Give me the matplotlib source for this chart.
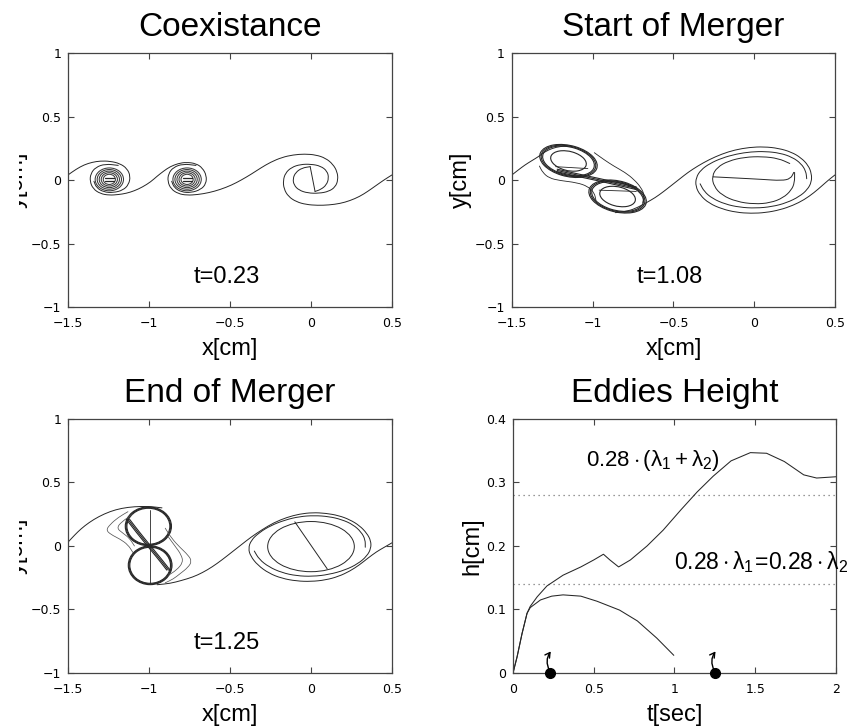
import numpy as np
import matplotlib
matplotlib.use("Agg")
import matplotlib.pyplot as plt
from matplotlib.path import Path
from matplotlib.patches import PathPatch, Ellipse
from matplotlib.transforms import Bbox, TransformedBbox

plt.rcParams['font.family'] = ['Liberation Sans', 'DejaVu Sans']
plt.rcParams['mathtext.fontset'] = 'custom'
plt.rcParams['mathtext.rm'] = 'Liberation Sans'
plt.rcParams['mathtext.it'] = 'Liberation Sans'
plt.rcParams['mathtext.bf'] = 'Liberation Sans:bold'

# ---------------- data ----------------
xy_ticks_x = [-1.5, -1, -0.5, 0, 0.5]
xy_labels_x = ['\u22121.5', '\u22121', '\u22120.5', '0', '0.5']
xy_ticks_y = [-1, -0.5, 0, 0.5, 1]
xy_labels_y = ['\u22121', '\u22120.5', '0', '0.5', '1']

# panel 1 : coexistance, t=0.23
coex_arm_left = [(-1.5, 0.04), (-1.45, 0.085), (-1.40, 0.12), (-1.35, 0.14), (-1.30, 0.15),
                 (-1.24, 0.148), (-1.18, 0.13), (-1.135, 0.09), (-1.115, 0.03), (-1.125, -0.035),
                 (-1.16, -0.08), (-1.22, -0.1), (-1.28, -0.095), (-1.325, -0.06), (-1.34, -0.01)]
coex_arm_ab = [(-1.19, 0.115), (-1.27, 0.127), (-1.33, 0.1), (-1.36, 0.05), (-1.365, -0.01),
               (-1.345, -0.07), (-1.30, -0.108), (-1.245, -0.12), (-1.19, -0.115), (-1.14, -0.105),
               (-1.09, -0.085), (-1.04, -0.055), (-0.99, -0.015), (-0.95, 0.03), (-0.91, 0.07),
               (-0.87, 0.105), (-0.82, 0.13), (-0.77, 0.14), (-0.71, 0.13), (-0.67, 0.095),
               (-0.645, 0.035), (-0.648, -0.03), (-0.68, -0.075), (-0.74, -0.1), (-0.8, -0.095),
               (-0.845, -0.06), (-0.86, -0.01)]
coex_arm_bc = [(-0.71, 0.115), (-0.79, 0.127), (-0.85, 0.1), (-0.88, 0.05), (-0.885, -0.01),
               (-0.865, -0.07), (-0.82, -0.108), (-0.765, -0.12), (-0.70, -0.115), (-0.63, -0.1),
               (-0.56, -0.075), (-0.49, -0.04), (-0.43, 0.0), (-0.37, 0.045), (-0.31, 0.095),
               (-0.25, 0.14), (-0.18, 0.178), (-0.11, 0.198), (-0.04, 0.205), (0.03, 0.198),
               (0.09, 0.172), (0.135, 0.125), (0.162, 0.065), (0.167, 0.0), (0.15, -0.055),
               (0.11, -0.09), (0.05, -0.105), (-0.02, -0.103), (-0.075, -0.08), (-0.105, -0.04),
               (-0.112, 0.01), (-0.095, 0.06), (-0.055, 0.095), (-0.005, 0.105)]
coex_arm_c = [(0.5, 0.04), (0.45, 0.0), (0.40, -0.045), (0.35, -0.09), (0.30, -0.13),
              (0.24, -0.163), (0.18, -0.185), (0.11, -0.197), (0.04, -0.2), (-0.03, -0.193),
              (-0.09, -0.172), (-0.14, -0.13), (-0.167, -0.07), (-0.172, -0.005), (-0.158, 0.055),
              (-0.12, 0.1), (-0.065, 0.123), (0.0, 0.125), (0.06, 0.11), (0.1, 0.07),
              (0.11, 0.015), (0.095, -0.04), (0.06, -0.075), (0.025, -0.09)]
coex_tail = [(-0.005, 0.105), (0.025, -0.09)]
coex_core_x = [-1.245, -0.765]
coex_core_y = [0.005, 0.005]
coex_core_w = [0.175, 0.15, 0.125, 0.10, 0.075]
coex_core_h = [0.18, 0.155, 0.13, 0.105, 0.08]

# panel 2 : start of merger, t=1.08
start_sheet_left = [(-1.5, 0.04), (-1.46, 0.08), (-1.42, 0.118), (-1.38, 0.15), (-1.337, 0.183),
                    (-1.297, 0.222), (-1.25, 0.25), (-1.2, 0.265), (-1.14, 0.268)]
start_lobe_x = [-1.15, -0.846]
start_lobe_y = [0.15, -0.13]
start_lobe_scale = [1.0, 0.95, 0.9, 0.62]
start_lobe_w, start_lobe_h, start_lobe_ang = 0.37, 0.24, -21
start_env_a = [(-0.99, 0.215), (-0.93, 0.16), (-0.87, 0.11), (-0.80, 0.06), (-0.745, 0.005),
               (-0.70, -0.06), (-0.68, -0.12), (-0.69, -0.18)]
start_env_b = [(-1.33, 0.11), (-1.31, 0.06), (-1.27, 0.015), (-1.20, -0.005), (-1.10, -0.02),
               (-1.03, -0.05), (-0.99, -0.1), (-0.98, -0.16)]
start_band = [(-1.22, 0.075), (-1.1, 0.04), (-0.97, 0.005), (-0.85, -0.03), (-0.73, -0.065)]
start_bar_a = [(-1.23, 0.105), (-1.03, 0.09)]
start_bar_b = [(-0.96, -0.08), (-0.73, -0.09)]
start_arm_crest = [(-0.86, -0.257), (-0.78, -0.245), (-0.72, -0.215), (-0.67, -0.18), (-0.614, -0.14),
                   (-0.56, -0.09), (-0.51, -0.04), (-0.46, 0.01), (-0.41, 0.06), (-0.35, 0.11),
                   (-0.28, 0.16), (-0.2, 0.205), (-0.12, 0.237), (-0.03, 0.257), (0.06, 0.262),
                   (0.15, 0.25), (0.23, 0.22), (0.29, 0.175), (0.335, 0.115), (0.355, 0.05),
                   (0.355, -0.015), (0.33, -0.075), (0.28, -0.13), (0.2, -0.18), (0.11, -0.21),
                   (0.01, -0.222), (-0.09, -0.215), (-0.18, -0.19), (-0.26, -0.145), (-0.31, -0.09),
                   (-0.335, -0.03)]
start_arm_bottom = [(0.5, 0.04), (0.46, 0.0), (0.42, -0.045), (0.37, -0.1), (0.31, -0.155),
                    (0.24, -0.2), (0.16, -0.235), (0.07, -0.257), (-0.02, -0.263), (-0.11, -0.255),
                    (-0.2, -0.228), (-0.28, -0.183), (-0.335, -0.12), (-0.363, -0.05), (-0.36, 0.02),
                    (-0.33, 0.08), (-0.275, 0.13), (-0.2, 0.173), (-0.11, 0.205), (-0.02, 0.222),
                    (0.07, 0.225), (0.16, 0.212), (0.235, 0.18), (0.29, 0.13), (0.32, 0.07),
                    (0.325, 0.01)]
start_inner = [(0.22, 0.13), (0.15, 0.17), (0.05, 0.185), (-0.06, 0.18), (-0.16, 0.15),
               (-0.23, 0.1), (-0.262, 0.03), (-0.25, -0.05), (-0.2, -0.12), (-0.11, -0.17),
               (0.0, -0.19), (0.1, -0.18), (0.18, -0.14), (0.23, -0.08), (0.25, -0.02), (0.25, 0.06)]
start_bar = [(-0.255, 0.025), (-0.1, 0.015), (0.05, 0.005), (0.17, -0.005), (0.225, 0.01), (0.245, 0.06)]

# panel 3 : end of merger, t=1.25
end_sheet_left = [(-1.5, 0.03), (-1.46, 0.085), (-1.42, 0.135), (-1.37, 0.185), (-1.31, 0.232),
                  (-1.24, 0.272), (-1.17, 0.297), (-1.09, 0.31), (-1.0, 0.312), (-0.92, 0.3)]
end_loop_x = [-1.004, -0.993]
end_loop_y = [0.155, -0.152]
end_loop_w = [0.285, 0.27]
end_loop_h = 0.305
end_loop_scale = [1.0, 0.965, 0.93]
end_diag = [(-1.13, 0.21), (-1.07, 0.11), (-1.0, 0.0), (-0.935, -0.1), (-0.88, -0.19)]
end_vline = [(-0.995, 0.285), (-0.995, -0.29)]
end_wing_l1 = [(-1.13, 0.27), (-1.19, 0.225), (-1.24, 0.17), (-1.265, 0.125), (-1.235, 0.09),
               (-1.18, 0.055), (-1.13, 0.01), (-1.1, -0.05)]
end_wing_l2 = [(-1.1, 0.25), (-1.17, 0.19), (-1.2, 0.14), (-1.16, 0.1), (-1.12, 0.06), (-1.09, 0.0)]
end_wing_r1 = [(-0.9, 0.14), (-0.86, 0.06), (-0.81, -0.01), (-0.76, -0.07), (-0.735, -0.12),
               (-0.76, -0.17), (-0.81, -0.22), (-0.85, -0.26), (-0.9, -0.29)]
end_wing_r2 = [(-0.88, 0.07), (-0.84, 0.0), (-0.8, -0.07), (-0.79, -0.13), (-0.83, -0.19), (-0.88, -0.23)]
end_arm_crest = [(-0.95, -0.305), (-0.87, -0.295), (-0.8, -0.272), (-0.73, -0.245), (-0.67, -0.21),
                 (-0.61, -0.165), (-0.55, -0.11), (-0.49, -0.05), (-0.43, 0.01), (-0.37, 0.07),
                 (-0.3, 0.13), (-0.23, 0.183), (-0.15, 0.225), (-0.07, 0.252), (0.01, 0.263),
                 (0.09, 0.258), (0.17, 0.24), (0.24, 0.207), (0.3, 0.16), (0.345, 0.1),
                 (0.37, 0.04), (0.37, -0.02), (0.345, -0.08), (0.29, -0.14), (0.21, -0.19),
                 (0.11, -0.225), (0.01, -0.24), (-0.09, -0.235), (-0.18, -0.21), (-0.26, -0.165),
                 (-0.32, -0.105), (-0.35, -0.04)]
end_arm_bottom = [(0.5, 0.025), (0.45, -0.012), (0.405, -0.045), (0.35, -0.097), (0.3, -0.148),
                  (0.24, -0.198), (0.17, -0.24), (0.09, -0.268), (0.0, -0.28), (-0.09, -0.276),
                  (-0.18, -0.255), (-0.26, -0.215), (-0.33, -0.15), (-0.373, -0.08), (-0.387, -0.02),
                  (-0.37, 0.045), (-0.32, 0.105), (-0.25, 0.16), (-0.16, 0.205), (-0.07, 0.232),
                  (0.02, 0.24), (0.11, 0.232), (0.19, 0.208), (0.26, 0.168), (0.31, 0.11),
                  (0.335, 0.05), (0.335, -0.01)]
end_inner_c, end_inner_w, end_inner_h = (0.0, -0.005), 0.535, 0.395
end_diag_e = [(-0.1, 0.19), (0.1, -0.18)]

# panel 4 : eddies height
t_two = [0, 0.025, 0.056, 0.087, 0.107, 0.17, 0.24, 0.31, 0.42, 0.52, 0.66, 0.77, 0.89, 0.995]
h_two = [0, 0.025, 0.062, 0.094, 0.103, 0.115, 0.121, 0.123, 0.121, 0.113, 0.099, 0.082, 0.055, 0.028]
t_big = [0, 0.025, 0.056, 0.087, 0.107, 0.15, 0.21, 0.31, 0.42, 0.5, 0.56, 0.6, 0.654, 0.727,
         0.83, 0.93, 1.04, 1.14, 1.24, 1.35, 1.47, 1.57, 1.68, 1.8, 1.88, 2.0]
h_big = [0, 0.025, 0.062, 0.094, 0.105, 0.12, 0.137, 0.154, 0.167, 0.178, 0.187, 0.178, 0.167, 0.178,
         0.2, 0.225, 0.257, 0.285, 0.31, 0.334, 0.347, 0.346, 0.333, 0.312, 0.307, 0.309]
h_levels = [0.28, 0.14]
t_marks = [0.23, 1.25]
t_ticks = [0, 0.5, 1, 1.5, 2]
t_labels = ['0', '0.5', '1', '1.5', '2']
h_ticks = [0, 0.1, 0.2, 0.3, 0.4]
h_labels = ['0', '0.1', '0.2', '0.3', '0.4']

LC = '#262626'


def sheet(ax, pts, closed=False, lw=0.7, color=LC):
    # smooth quadratic curve through the read waypoints
    p = np.asarray(pts, float)
    if len(p) == 2:
        verts, codes = [p[0], p[1]], [Path.MOVETO, Path.LINETO]
    elif closed:
        q = np.vstack([p, p[:2]])
        m = (q[:-1] + q[1:]) / 2
        verts, codes = [m[0]], [Path.MOVETO]
        for i in range(1, len(p) + 1):
            verts += [q[i], m[i]]
            codes += [Path.CURVE3, Path.CURVE3]
    else:
        m = (p[:-1] + p[1:]) / 2
        verts, codes = [p[0], m[0]], [Path.MOVETO, Path.LINETO]
        for i in range(1, len(p) - 1):
            verts += [p[i], m[i]]
            codes += [Path.CURVE3, Path.CURVE3]
        verts.append(p[-1])
        codes.append(Path.LINETO)
    ax.add_patch(PathPatch(Path(verts, codes), fill=False, lw=lw, ec=color,
                           capstyle='round', joinstyle='round'))


def ring(ax, c, w, h, ang=0, lw=0.7, color=LC):
    ax.add_patch(Ellipse(c, w, h, angle=ang, fill=False, lw=lw, ec=color))


def style(ax):
    for s in ax.spines.values():
        s.set_color('#444444')
        s.set_linewidth(0.9)
    ax.tick_params(direction='in', length=4, width=0.8, color='#444444',
                   top=True, right=True, labelsize=9)
    ax.tick_params(axis='x', pad=7)
    ax.tick_params(axis='y', pad=5)
    for lab in ax.get_xticklabels() + ax.get_yticklabels():
        lab.set_fontfamily('DejaVu Sans')


fig = plt.figure(figsize=(8.6, 7.27), dpi=100)
ax1 = fig.add_axes([0.0791, 0.5777, 0.3767, 0.3494])
ax2 = fig.add_axes([0.5953, 0.5777, 0.3756, 0.3494])
ax3 = fig.add_axes([0.0791, 0.0743, 0.3767, 0.3494])
ax4 = fig.add_axes([0.5965, 0.0743, 0.3756, 0.3494])

titles = ['Coexistance', 'Start of Merger', 'End of Merger']
stamps = ['t=0.23', 't=1.08', 't=1.25']
for ax, ttl, st in zip([ax1, ax2, ax3], titles, stamps):
    ax.set_xlim(-1.5, 0.5)
    ax.set_ylim(-1, 1)
    ax.set_xticks(xy_ticks_x)
    ax.set_xticklabels(xy_labels_x)
    ax.set_yticks(xy_ticks_y)
    ax.set_yticklabels(xy_labels_y)
    ax.set_title(ttl, fontsize=24, pad=12)
    ax.set_xlabel('x[cm]', fontsize=17, labelpad=6)
    ax.set_ylabel('y[cm]', fontsize=17, labelpad=2)
    ax.text(-0.52, -0.76, st, fontsize=17, ha='center', va='center')
    style(ax)

# left column labels are cut by the page edge in the original
for ax in [ax1, ax3]:
    clip = TransformedBbox(Bbox([[19 / 860, 0], [1, 1]]), fig.transFigure)
    ax.yaxis.label.set_clip_box(clip)
    ax.yaxis.label.set_clip_on(True)

# panel 1
for arm in [coex_arm_left, coex_arm_ab, coex_arm_bc, coex_arm_c, coex_tail]:
    sheet(ax1, arm)
for cx, cy in zip(coex_core_x, coex_core_y):
    for w, h in zip(coex_core_w, coex_core_h):
        ring(ax1, (cx, cy), w, h, lw=0.75, color='#3a3a3a')
    sheet(ax1, [(cx - 0.028, cy + 0.014), (cx + 0.028, cy + 0.014)], lw=0.9)
    sheet(ax1, [(cx - 0.028, cy - 0.012), (cx + 0.028, cy - 0.012)], lw=0.9)

# panel 2
sheet(ax2, start_sheet_left)
for cx, cy in zip(start_lobe_x, start_lobe_y):
    for s in start_lobe_scale:
        ring(ax2, (cx, cy), start_lobe_w * s, start_lobe_h * s, start_lobe_ang, lw=0.8)
sheet(ax2, start_env_a, lw=0.6)
sheet(ax2, start_env_b, lw=0.6)
for off in [-0.01, 0.0, 0.01]:
    sheet(ax2, [(x, y + off) for x, y in start_band], lw=0.8)
sheet(ax2, start_bar_a, lw=0.6)
sheet(ax2, start_bar_b, lw=0.6)
sheet(ax2, start_arm_crest)
sheet(ax2, start_arm_bottom)
sheet(ax2, start_inner)
sheet(ax2, start_bar)

# panel 3
sheet(ax3, end_sheet_left)
for cx, cy, w in zip(end_loop_x, end_loop_y, end_loop_w):
    for s in end_loop_scale:
        ring(ax3, (cx, cy), w * s, end_loop_h * s, lw=0.8)
for off in [-0.01, 0.0, 0.01]:
    sheet(ax3, [(x + off, y) for x, y in end_diag], lw=0.8)
sheet(ax3, end_vline, lw=0.6)
for wing in [end_wing_l1, end_wing_l2, end_wing_r1, end_wing_r2]:
    sheet(ax3, wing, lw=0.55, color='#555555')
sheet(ax3, end_arm_crest)
sheet(ax3, end_arm_bottom)
ring(ax3, end_inner_c, end_inner_w, end_inner_h)
sheet(ax3, end_diag_e)

# panel 4
ax4.set_xlim(0, 2)
ax4.set_ylim(0, 0.4)
ax4.set_xticks(t_ticks)
ax4.set_xticklabels(t_labels)
ax4.set_yticks(h_ticks)
ax4.set_yticklabels(h_labels)
ax4.set_title('Eddies Height', fontsize=24, pad=12)
ax4.set_xlabel('t[sec]', fontsize=17, labelpad=6)
ax4.set_ylabel('h[cm]', fontsize=17, labelpad=2)
for lv in h_levels:
    ax4.axhline(lv, color='#777777', lw=0.9, ls=(0, (1, 3)))
ax4.plot(t_big, h_big, color=LC, lw=0.75)
ax4.plot(t_two, h_two, color=LC, lw=0.75)
for tm in t_marks:
    ax4.plot([tm], [0], 'o', color='k', ms=7, clip_on=False, zorder=5)
    ax4.annotate('', xy=(tm + 0.004, 0.034), xytext=(tm - 0.004, 0.004),
                 arrowprops=dict(arrowstyle='->,head_length=0.35,head_width=0.2', color='k',
                                 lw=1.0, shrinkA=0, shrinkB=0,
                                 connectionstyle='arc3,rad=-0.3'),
                 annotation_clip=False)
ax4.text(0.45, 0.335, r'$0.28\cdot(\lambda_1+\lambda_2)$', fontsize=16, va='center')
ax4.text(1.0, 0.175, r'$0.28\cdot\lambda_1\!=\!0.28\cdot\lambda_2$', fontsize=16.5,
         va='center', clip_on=False)
style(ax4)

fig.savefig('out.png', dpi=100)
